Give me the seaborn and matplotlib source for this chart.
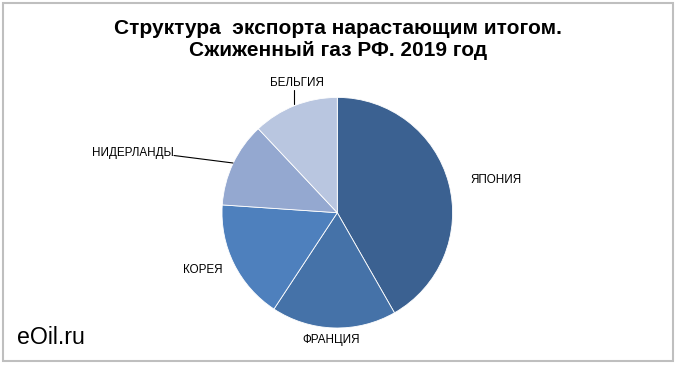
import matplotlib
matplotlib.use("Agg")
import matplotlib.pyplot as plt
import seaborn as sns
from matplotlib.patches import Rectangle

sns.set_theme(style="white")
plt.rcParams['font.family'] = ['Liberation Sans', 'DejaVu Sans']
plt.rcParams['text.color'] = 'black'

categories = ["ЯПОНИЯ", "ФРАНЦИЯ", "КОРЕЯ", "НИДЕРЛАНДЫ", "БЕЛЬГИЯ"]
values = [41.7, 17.5, 16.8, 11.9, 12.0]
colors = ["#3B6191", "#4572A8", "#4E80BD", "#94A8D0", "#B9C6E0"]
title_lines = ["Структура  экспорта нарастающим итогом.", "Сжиженный газ РФ. 2019 год"]

W, H = 680, 367
fig = plt.figure(figsize=(W / 100, H / 100), dpi=100)
fig.patch.set_facecolor("white")

# frame
fig.add_artist(Rectangle((2.5 / W, (H - 361) / H), 670.5 / W, 358.5 / H,
                         transform=fig.transFigure, fill=False,
                         edgecolor="#BFBFBF", linewidth=1.5))

cx, cy, r = 337.3, 212.7, 115.3
ax = fig.add_axes([(cx - r) / W, (H - cy - r) / H, 2 * r / W, 2 * r / H])
ax.pie(values, colors=colors, startangle=90, counterclock=False, radius=1,
       wedgeprops=dict(edgecolor="white", linewidth=0.6))
ax.set_xlim(-1, 1)
ax.set_ylim(-1, 1)
ax.set_aspect("equal")
ax.axis("off")

def d(px, py):
    return ((px - cx) / r, (cy - py) / r)

label_pos = {
    "ЯПОНИЯ": (496, 180, "center"),
    "ФРАНЦИЯ": (331, 340, "center"),
    "КОРЕЯ": (203, 270, "center"),
    "НИДЕРЛАНДЫ": (174, 153, "right"),
    "БЕЛЬГИЯ": (297, 83, "center"),
}
for name in categories:
    px, py, ha = label_pos[name]
    x, y = d(px, py)
    ax.text(x, y, name, ha=ha, va="center", fontsize=8.4, color="black", clip_on=False)

# leader lines
x0, y0 = d(174, 155.5); x1, y1 = d(233, 163)
ax.plot([x0, x1], [y0, y1], color="black", lw=0.8, clip_on=False)
x0, y0 = d(294.5, 90); x1, y1 = d(294.5, 104)
ax.plot([x0, x1], [y0, y1], color="black", lw=0.8, clip_on=False)

fig.text(338 / W, 1 - 28 / H, title_lines[0], ha="center", va="center",
         fontsize=15, fontweight="bold", color="black")
fig.text(338 / W, 1 - 51 / H, title_lines[1], ha="center", va="center",
         fontsize=15, fontweight="bold", color="black")

fig.text(17 / W, 1 - 337 / H, "eOil.ru", ha="left", va="center", fontsize=16.7, color="black")

fig.savefig("out.png", dpi=100, facecolor="white")
